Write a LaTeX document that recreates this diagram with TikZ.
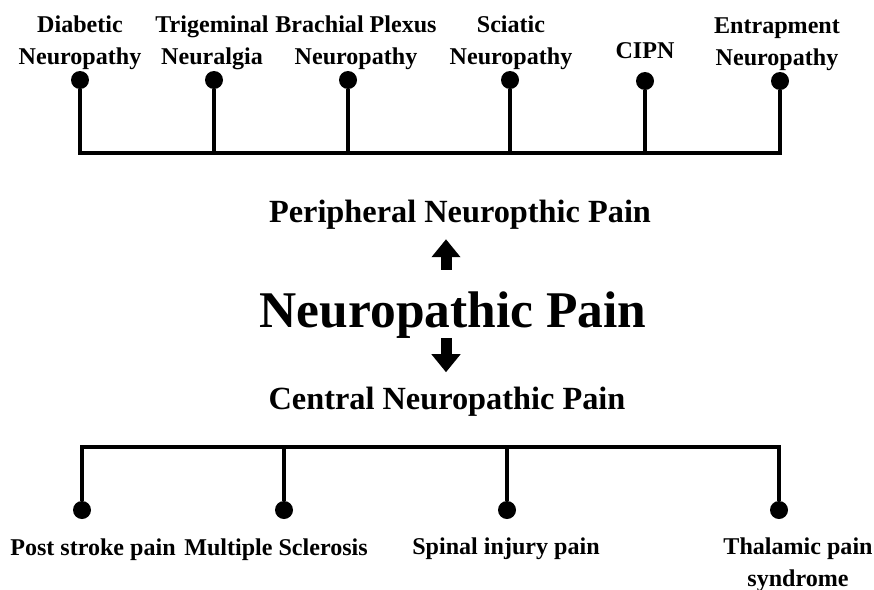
\documentclass[tikz,border=0pt]{standalone}
\usepackage{fontspec}
\setmainfont{Liberation Serif}
\usetikzlibrary{arrows.meta, positioning}

\begin{document}
\begin{tikzpicture}[
  x=0.02cm, y=-0.02cm,
  stem/.style={line width=0.08cm, black},
  pin/.style={circle, fill=black, inner sep=0pt, minimum size=0.36cm},
  leaf/.style={font=\fontsize{13.7}{18.2}\selectfont\bfseries, align=center, anchor=base, inner sep=0pt},
  branch/.style={font=\fontsize{18.4}{22}\selectfont\bfseries, anchor=base, inner sep=0pt},
  root/.style={font=\fontsize{29.3}{35}\selectfont\bfseries, anchor=base, inner sep=0pt},
  bigarr/.style={-{Triangle[length=0.36cm, width=0.56cm]}, line width=0.22cm},
]
\useasboundingbox (0,0) rectangle (874,589);

% Centre
\node[root] (root) at (453,327) {Neuropathic Pain};
\node[branch] (periph) at (460,222) {Peripheral Neuropthic Pain};
\node[branch] (central) at (447,409) {Central Neuropathic Pain};
\coordinate (axis) at (446,0);
\draw[bigarr, shorten <=0.42cm, shorten >=0.2cm] (root.north -| axis) -- (periph.south -| axis);
\draw[bigarr, shorten >=0.28cm] (root.south -| axis) -- (central.north -| axis);

% Peripheral branch
\coordinate (pbus) at (0,153);
\node[pin] (diabpin) at (80,80) {};
\node[pin] (trigpin) at (214,80) {};
\node[pin] (brachpin) at (348,80) {};
\node[pin] (sciapin) at (510,80) {};
\node[pin] (cipnpin) at (645,81) {};
\node[pin] (entrpin) at (780,81) {};
\draw[stem] (diabpin) -- (diabpin |- pbus) -- (entrpin |- pbus) -- (entrpin);
\draw[stem] (trigpin) -- (trigpin |- pbus);
\draw[stem] (brachpin) -- (brachpin |- pbus);
\draw[stem] (sciapin) -- (sciapin |- pbus);
\draw[stem] (cipnpin) -- (cipnpin |- pbus);

% labels sit on the baseline of their last line
\node[leaf] (diab) at (80,64) {Diabetic\\Neuropathy};
\node[leaf] (trig) at (212,64) {Trigeminal\\Neuralgia};
\node[leaf] (brach) at (356,64) {Brachial Plexus\\Neuropathy};
\node[leaf] (scia) at (511,64) {Sciatic\\Neuropathy};
\node[leaf] (cipn) at (645,58) {CIPN};
\node[leaf] (entr) at (777,65) {Entrapment\\Neuropathy};

% Central branch
\coordinate (cbus) at (0,447);
\node[pin] (postpin) at (82,510) {};
\node[pin] (mspin) at (284,510) {};
\node[pin] (spinpin) at (507,510) {};
\node[pin] (thalpin) at (779,510) {};
\draw[stem] (postpin) -- (postpin |- cbus) -- (thalpin |- cbus) -- (thalpin);
\draw[stem] (mspin) -- (mspin |- cbus);
\draw[stem] (spinpin) -- (spinpin |- cbus);

\node[leaf] (post) at (93,555) {Post stroke pain};
\node[leaf] (ms) at (276,555) {Multiple Sclerosis};
\node[leaf] (spin) at (506,554) {Spinal injury pain};
\node[leaf] (thal) at (798,586) {Thalamic pain\\syndrome};

\end{tikzpicture}
\end{document}
